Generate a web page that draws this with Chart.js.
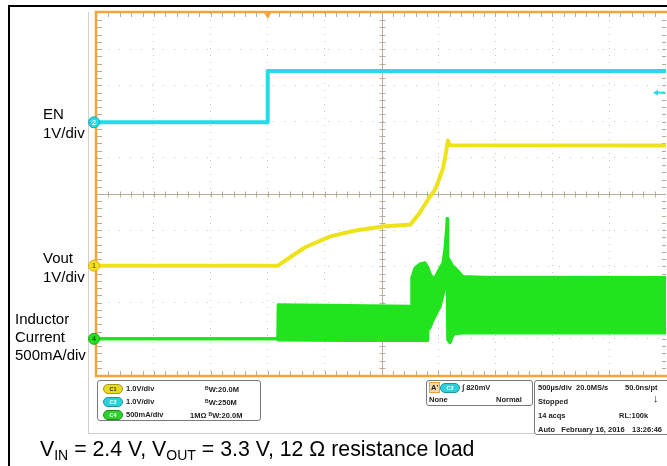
<!DOCTYPE html>
<html>
<head>
<meta charset="utf-8">
<script src="https://cdn.jsdelivr.net/npm/chart.js@4.4.1/dist/chart.umd.min.js"></script>
<style>
    body { margin: 0; background: #fff; }
    #wrap { position: relative; width: 667px; height: 466px; overflow: hidden; font-family: Arial, "Liberation Sans", sans-serif; }
    #frame { position: absolute; left: 8px; top: 5px; width: 700px; height: 500px; border-left: 2px solid #000; border-top: 2px solid #000; }
    #scopeEdge { position: absolute; left: 88px; top: 12px; width: 700px; height: 421px; border-left: 1px solid #cfcfcf; border-bottom: 1px solid #cfcfcf; }
    canvas { position: absolute; left: 0; top: 0; }
    .lbl { position: absolute; font-size: 15px; color: #000; line-height: 19px; }
    .box { position: absolute; border: 1px solid #7a7a7a; border-radius: 3px; background: #fff; }
    .info { position: absolute; font-size: 7.5px; font-weight: bold; color: #222; white-space: nowrap; line-height: 9px; }
    .pill { position: absolute; width: 18px; height: 8px; border-radius: 5px; font-size: 5.5px; line-height: 8px; text-align: center; font-weight: bold; }
    .bw { font-size: 5px; vertical-align: 2px; }
    #caption { position: absolute; left: 40px; top: 437px; font-size: 21.3px; color: #000; white-space: nowrap; }
    #caption sub { font-size: 14px; vertical-align: -4px; line-height: 0; }
</style>
</head>
<body>
<div id="wrap">
    <div id="frame"></div>
    <div id="scopeEdge"></div>
    <canvas id="scope" width="667" height="466"></canvas>

    <div class="lbl" style="left:43px;top:104px;">EN<br>1V/div</div>
    <div class="lbl" style="left:43px;top:248px;">Vout<br>1V/div</div>
    <div class="lbl" style="left:15px;top:310px;line-height:18px;">Inductor<br>Current<br>500mA/div</div>

    <!-- channel readout -->
    <div class="box" style="left:97px;top:380px;width:162px;height:39px;"></div>
    <div class="pill" style="left:103px;top:384px;background:#e6dc1c;border:1px solid #a89a10;color:#333;">C1</div>
    <div class="pill" style="left:103px;top:397px;background:#2fd0da;border:1px solid #1b96a0;color:#fff;">C2</div>
    <div class="pill" style="left:103px;top:410px;background:#2ed12e;border:1px solid #189018;color:#fff;">C4</div>
    <div class="info" style="left:126px;top:384px;">1.0V/div</div>
    <div class="info" style="left:126px;top:397px;">1.0V/div</div>
    <div class="info" style="left:126px;top:410px;">500mA/div</div>
    <div class="info" style="left:205px;top:384px;"><span class="bw">B</span>W:20.0M</div>
    <div class="info" style="left:205px;top:397px;"><span class="bw">B</span>W:250M</div>
    <div class="info" style="left:190px;top:410px;">1MΩ <span class="bw">B</span>W:20.0M</div>

    <!-- trigger readout -->
    <div class="box" style="left:426px;top:380px;width:105px;height:24px;"></div>
    <div class="info" style="left:429px;top:382px;border:1px solid #e8a040;background:#f6d7a8;padding:0 1px;">A'</div>
    <div class="pill" style="left:440px;top:383px;background:#2fd0da;border:1px solid #1b96a0;color:#fff;">C2</div>
    <div class="info" style="left:462px;top:383px;">∫ 820mV</div>
    <div class="info" style="left:429px;top:395px;">None</div>
    <div class="info" style="left:496px;top:395px;">Normal</div>

    <!-- acquisition readout -->
    <div class="box" style="left:534px;top:380px;width:140px;height:53px;"></div>
    <div class="info" style="left:538px;top:383px;">500µs/div&nbsp; 20.0MS/s</div>
    <div class="info" style="left:625px;top:383px;">50.0ns/pt</div>
    <div class="info" style="left:538px;top:397px;">Stopped</div>
    <div class="info" style="left:653px;top:394px;font-size:11px;">↓</div>
    <div class="info" style="left:538px;top:411px;">14 acqs</div>
    <div class="info" style="left:619px;top:411px;">RL:100k</div>
    <div class="info" style="left:538px;top:425px;">Auto&nbsp;&nbsp; February 16, 2016</div>
    <div class="info" style="left:632px;top:425px;">13:26:46</div>

    <div id="caption">V<sub>IN</sub> = 2.4 V, V<sub>OUT</sub> = 3.3 V, 12 Ω resistance load</div>
</div>

<script>
// Scope capture: 500 us/div, 10 x 10 divisions, values in screen divisions from bottom

// Time axis (us from left edge of screen)
const timeGrid = [0, 500, 1000, 1500, 2000, 2500, 3000, 3500, 4000, 4500, 5000];
const levelGrid = [0, 1, 2, 3, 4, 5, 6, 7, 8, 9, 10];
const triggerTime = 1500;

// Channel ground markers (divisions)
const channelNames = ['2', '1', '4'];
const channelGround = [6.98, 3.02, 1.0];

// EN (C2, 1V/div)
const enTime = [0, 1500, 1500, 5000];
const enLevel = [6.98, 6.98, 8.40, 8.40];
const enTriggerLevel = 7.80;

// Vout (C1, 1V/div)
const voutTime = [0, 1590, 1700, 1830, 2050, 2270, 2510, 2755, 2838, 2909, 2970, 2996, 3040, 3070, 3084, 3100, 5000];
const voutLevel = [3.02, 3.02, 3.26, 3.53, 3.83, 3.99, 4.10, 4.16, 4.49, 4.85, 5.12, 5.32, 5.70, 6.20, 6.48, 6.35, 6.34];

// Inductor current (C4, 500mA/div) - switching band envelope
const ilTime = [0, 1588, 1592, 2200, 2760, 2766, 2794, 2838, 2882, 2905, 2909, 2926, 2944, 2970, 2996, 3014, 3040, 3058, 3073, 3076, 3080, 3084, 3102, 3128, 3146, 3216, 3400, 4000, 5000];
const ilUpper = [1.0, 1.0, 1.94, 1.92, 1.90, 2.69, 2.96, 3.07, 3.10, 2.98, 2.96, 2.80, 2.71, 2.69, 2.85, 2.95, 3.10, 3.50, 4.10, 4.32, 3.90, 3.25, 3.15, 3.00, 2.96, 2.72, 2.70, 2.70, 2.69];
const ilLower = [1.0, 1.0, 0.97, 0.95, 0.95, 0.95, 0.95, 0.95, 0.95, 0.95, 1.25, 1.30, 1.45, 1.62, 1.78, 1.88, 2.20, 2.44, 2.71, 2.90, 2.00, 0.97, 0.89, 1.10, 1.14, 1.16, 1.16, 1.16, 1.16];

const COLORS = {
    en: '#22dde6',
    vout: '#eee31a',
    il: '#22e41e',
    frame: '#f2a53a',
    axis: '#b8ad98',
    dots: '#c4c4c4'
};

function toPoints(xs, ys) {
    return xs.map((x, i) => ({ x: x, y: ys[i] }));
}

// Graticule: orange frame, centre cross and minor ticks
const graticulePlugin = {
    id: 'graticule',
    beforeDatasetsDraw(chart) {
        const { ctx, chartArea: a, scales } = chart;
        const xs = scales.x, ys = scales.y;
        const dx = (xs.getPixelForValue(500) - xs.getPixelForValue(0)) / 5;
        const dy = (ys.getPixelForValue(0) - ys.getPixelForValue(1)) / 5;
        const cx = Math.round(xs.getPixelForValue(2500)) + 0.5;
        const cy = Math.round(ys.getPixelForValue(5)) + 0.5;
        ctx.save();
        ctx.strokeStyle = COLORS.axis;
        ctx.lineWidth = 1;
        ctx.beginPath();
        ctx.moveTo(cx, a.top); ctx.lineTo(cx, a.bottom);
        ctx.moveTo(a.left, cy); ctx.lineTo(a.right, cy);
        for (let i = 1; i < 50; i++) {
            const px = Math.round(a.left + i * dx) + 0.5;
            ctx.moveTo(px, cy - 3); ctx.lineTo(px, cy + 3);
            ctx.moveTo(px, a.top); ctx.lineTo(px, a.top + 4);
            ctx.moveTo(px, a.bottom); ctx.lineTo(px, a.bottom - 4);
            const py = Math.round(a.top + i * dy) + 0.5;
            ctx.moveTo(cx - 3, py); ctx.lineTo(cx + 3, py);
            ctx.moveTo(a.left, py); ctx.lineTo(a.left + 5, py);
            ctx.moveTo(a.right - 4, py); ctx.lineTo(a.right, py);
        }
        ctx.stroke();
        ctx.strokeStyle = COLORS.frame;
        ctx.lineWidth = 2.5;
        ctx.strokeRect(a.left - 1, a.top - 1, a.right - a.left + 6, a.bottom - a.top + 2);
        ctx.restore();
    },
    afterDatasetsDraw(chart) {
        const { ctx, chartArea: a, scales } = chart;
        const xs = scales.x, ys = scales.y;
        ctx.save();
        // trigger position
        const tx = xs.getPixelForValue(triggerTime);
        ctx.fillStyle = COLORS.frame;
        ctx.beginPath();
        ctx.moveTo(tx - 4, a.top - 1); ctx.lineTo(tx + 4, a.top - 1); ctx.lineTo(tx, a.top + 6);
        ctx.closePath(); ctx.fill();
        // trigger level arrow
        const ty = ys.getPixelForValue(enTriggerLevel);
        ctx.strokeStyle = COLORS.en; ctx.fillStyle = COLORS.en; ctx.lineWidth = 2;
        ctx.beginPath(); ctx.moveTo(a.right - 10, ty); ctx.lineTo(a.right - 1, ty); ctx.stroke();
        ctx.beginPath(); ctx.moveTo(a.right - 13, ty); ctx.lineTo(a.right - 8, ty - 3); ctx.lineTo(a.right - 8, ty + 3); ctx.closePath(); ctx.fill();
        // channel ground markers
        const fills = [COLORS.en, COLORS.vout, COLORS.il];
        const rims = ['#1aa6b2', '#f0a020', '#18a818'];
        const inks = ['#ffffff', '#8a6a00', '#0a5a0a'];
        channelNames.forEach((name, i) => {
            const y = ys.getPixelForValue(channelGround[i]);
            ctx.beginPath();
            ctx.arc(a.left - 3, y, 5.5, 0, Math.PI * 2);
            ctx.fillStyle = fills[i]; ctx.fill();
            ctx.lineWidth = 1; ctx.strokeStyle = rims[i]; ctx.stroke();
            ctx.fillStyle = inks[i];
            ctx.font = 'bold 7px Arial';
            ctx.textAlign = 'center'; ctx.textBaseline = 'middle';
            ctx.fillText(name, a.left - 3, y + 0.5);
        });
        ctx.restore();
    }
};

const lineStyle = {
    pointRadius: 0,
    tension: 0,
    borderJoinStyle: 'round'
};

new Chart(document.getElementById('scope'), {
    type: 'line',
    data: {
        datasets: [{
            label: 'EN',
            data: toPoints(enTime, enLevel),
            borderColor: COLORS.en,
            borderWidth: 4,
            ...lineStyle
        }, {
            label: 'Vout',
            data: toPoints(voutTime, voutLevel),
            borderColor: COLORS.vout,
            borderWidth: 4,
            ...lineStyle
        }, {
            label: 'Inductor Current (min)',
            data: toPoints(ilTime, ilLower),
            borderColor: COLORS.il,
            borderWidth: 3,
            fill: false,
            ...lineStyle
        }, {
            label: 'Inductor Current (max)',
            data: toPoints(ilTime, ilUpper),
            borderColor: COLORS.il,
            backgroundColor: COLORS.il,
            borderWidth: 3,
            fill: '-1',
            ...lineStyle
        }]
    },
    options: {
        responsive: false,
        animation: false,
        layout: {
            padding: { left: 97, right: 1, top: 13, bottom: 91 }
        },
        plugins: {
            legend: { display: false },
            tooltip: { enabled: false }
        },
        scales: {
            x: {
                type: 'linear',
                min: timeGrid[0],
                max: timeGrid[timeGrid.length - 1],
                afterBuildTicks: (scale) => { scale.ticks = timeGrid.map(v => ({ value: v })); },
                ticks: { display: false },
                grid: {
                    drawTicks: false,
                    color: (c) => (c.tick && (c.tick.value === 2500 || c.tick.value === 0 || c.tick.value === 5000)) ? 'rgba(0,0,0,0)' : COLORS.dots
                },
                border: { display: false, dash: [1, 6] }
            },
            y: {
                type: 'linear',
                min: levelGrid[0],
                max: levelGrid[levelGrid.length - 1],
                afterBuildTicks: (scale) => { scale.ticks = levelGrid.map(v => ({ value: v })); },
                ticks: { display: false },
                grid: {
                    drawTicks: false,
                    color: (c) => (c.tick && (c.tick.value === 5 || c.tick.value === 0 || c.tick.value === 10)) ? 'rgba(0,0,0,0)' : COLORS.dots
                },
                border: { display: false, dash: [1, 10] }
            }
        }
    },
    plugins: [graticulePlugin]
});
</script>
</body>
</html>
